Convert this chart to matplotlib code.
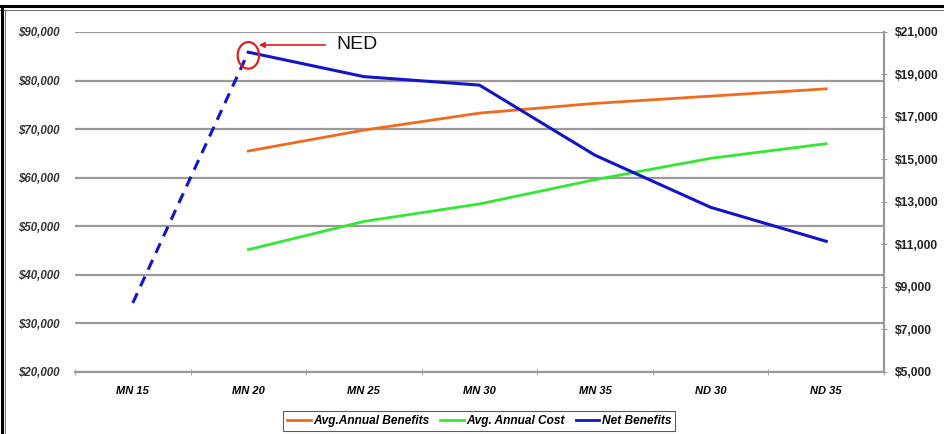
import numpy as np
import matplotlib.pyplot as plt
from matplotlib.patches import Ellipse
from matplotlib.lines import Line2D
from matplotlib.ticker import FuncFormatter

# categories and values
plans = ['MN 15', 'MN 20', 'MN 25', 'MN 30', 'MN 35', 'ND 30', 'ND 35']
benefits = [np.nan, 65500, 69800, 73300, 75300, 76800, 78300]   # left axis
costs = [np.nan, 45200, 51000, 54600, 59600, 64000, 67000]      # left axis
net = [8250, 20050, 18900, 18500, 15200, 12750, 11150]          # right axis

left_ticks = [20000, 30000, 40000, 50000, 60000, 70000, 80000, 90000]
right_ticks = [5000, 7000, 9000, 11000, 13000, 15000, 17000, 19000, 21000]

plt.rcParams['font.family'] = ['Liberation Sans', 'DejaVu Sans']

W, H = 944, 434
fig = plt.figure(figsize=(W / 100, H / 100), dpi=100)
ax = fig.add_axes([75 / W, 1 - 372 / H, (884 - 75) / W, (372 - 32) / H])
ax2 = ax.twinx()

x = np.arange(len(plans))
c_orange = '#f26a1e'
c_green = '#33e833'
c_blue = '#1414c8'
grey = '#9a9a9a'

ax.plot(x, benefits, color=c_orange, lw=2, label='Avg.Annual Benefits')
ax.plot(x, costs, color=c_green, lw=2, label='Avg. Annual Cost')
ax2.plot(x[:2], net[:2], color=c_blue, lw=2.2, ls=(0, (3.5, 2.5)))
ax2.plot(x[1:], net[1:], color=c_blue, lw=2.2)

ax.set_xlim(-0.5, len(plans) - 0.5)
ax.set_ylim(20000, 90000)
ax2.set_ylim(5000, 21000)

ax.set_yticks(left_ticks)
ax.yaxis.set_major_formatter(FuncFormatter(lambda v, p: '${:,.0f}'.format(v)))
ax2.set_yticks(right_ticks)
ax2.yaxis.set_major_formatter(FuncFormatter(lambda v, p: '${:,.0f}'.format(v)))
ax.grid(axis='y', color=grey, lw=1.6)
ax.set_axisbelow(True)

ax.set_xticks(x)
ax.set_xticklabels(plans, fontsize=8, fontweight='bold', fontstyle='italic')
ax.set_xticks(np.arange(len(plans) + 1) - 0.5, minor=True)
ax.tick_params(axis='x', which='major', length=0, pad=10)
ax.tick_params(axis='x', which='minor', length=4, direction='inout', color=grey)
ax.tick_params(axis='y', length=0, pad=11, labelsize=8.3)
for t in ax.get_yticklabels():
    t.set_fontweight('bold')
    t.set_fontstyle('italic')
    t.set_color('#333333')
ax2.tick_params(axis='y', length=4, direction='inout', color=grey, pad=6,
                labelsize=8.7)
for t in ax2.get_yticklabels():
    t.set_fontweight('bold')
    t.set_color('#222222')

for a in (ax, ax2):
    a.spines['top'].set_visible(False)
    a.spines['left'].set_visible(False)
    a.spines['right'].set_color(grey)
    a.spines['bottom'].set_color(grey)
    a.spines['right'].set_linewidth(1.5)
    a.spines['bottom'].set_linewidth(1.5)

# NED marker
ax2.add_patch(Ellipse((1.0, 19900), 0.185, 1250, fill=False,
                      edgecolor='#e02020', lw=1.6, zorder=5))
ax2.annotate('', xy=(1.09, 20390), xytext=(1.665, 20390),
             arrowprops=dict(arrowstyle='-|>', color='#e02020', lw=1.2,
                             mutation_scale=8, shrinkA=0, shrinkB=0))
ax2.text(1.765, 20390, 'NED', fontsize=14, va='center', ha='left',
         color='#111111')

handles = [Line2D([], [], color=c_orange, lw=2),
           Line2D([], [], color=c_green, lw=2),
           Line2D([], [], color=c_blue, lw=2)]
labels = ['Avg.Annual Benefits', 'Avg. Annual Cost', 'Net Benefits']
leg = fig.legend(handles, labels, loc='center', bbox_to_anchor=(479 / W, 1 - 421 / H),
                 ncol=3, frameon=True, fancybox=False, handlelength=2.0,
                 handletextpad=0.2, columnspacing=0.9, borderpad=0.35,
                 prop=dict(size=8.6, weight='bold', style='italic'))
leg.get_frame().set_edgecolor('#333333')
leg.get_frame().set_linewidth(0.8)

# page frame around the chart
fig.add_artist(Line2D([0, 1], [1 - 6 / H, 1 - 6 / H], color='black', lw=2.2,
                      transform=fig.transFigure))
fig.add_artist(Line2D([0, 1], [1 - 10 / H, 1 - 10 / H], color='#777777', lw=0.8,
                      transform=fig.transFigure))
fig.add_artist(Line2D([1.5 / W, 1.5 / W], [0, 1 - 6 / H], color='black', lw=2.2,
                      transform=fig.transFigure))
fig.add_artist(Line2D([4.5 / W, 4.5 / W], [0, 1 - 10 / H], color='#777777', lw=0.8,
                      transform=fig.transFigure))

fig.savefig('out.png', dpi=100)
